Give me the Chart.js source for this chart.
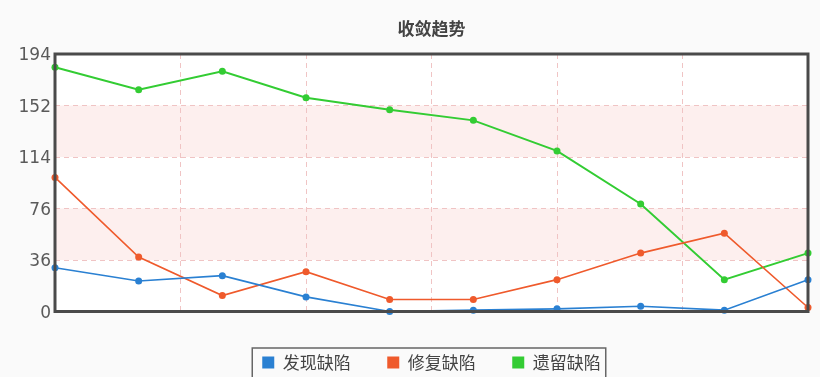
<!DOCTYPE html>
<html>
<head>
<meta charset="utf-8">
<script src="https://cdn.jsdelivr.net/npm/chart.js@4/dist/chart.umd.min.js"></script>
<style>
  html, body { margin: 0; padding: 0; background: #fafafa; }
  #wrap { width: 820px; height: 377px; }
</style>
</head>
<body>
<div id="wrap"><canvas id="c" width="820" height="377"></canvas></div>
<script>
const chartTitle = '收敛趋势';
const categories = ['1', '2', '3', '4', '5', '6', '7', '8', '9', '10'];
const seriesNames = ['发现缺陷', '修复缺陷', '遗留缺陷'];
const found    = [33, 23, 27, 11, 0, 1, 2, 4, 1, 24];
const fixed    = [101, 41, 12, 30, 9, 9, 24, 44, 59, 3];
const remain   = [184, 167, 181, 161, 152, 144, 121, 81, 24, 44];
const yTickLabels = ['0', '36', '76', '114', '152', '194'];
const yMax = 194;
const colors = ['#2a80d2', '#ef5a2c', '#33cc33'];

const CJK = '"Noto Sans CJK SC", "DejaVu Sans", sans-serif';
const TICK_FONT = { family: '"DejaVu Sans", sans-serif', size: 17 };

// widest tick label, used to right-align mirrored labels just left of the plot
const mctx = document.createElement('canvas').getContext('2d');
mctx.font = TICK_FONT.size + 'px ' + TICK_FONT.family;
const widest = Math.max(...yTickLabels.map(t => mctx.measureText(t).width));

const framePlugin = {
  id: 'frame',
  beforeDraw(chart) {
    const {ctx, chartArea: a, scales} = chart;
    const y = scales.y;
    ctx.save();
    ctx.fillStyle = '#ffffff';
    ctx.fillRect(a.left, a.top, a.right - a.left, a.bottom - a.top);
    const ticks = y.ticks.map(t => t.value);
    ctx.fillStyle = '#fdefee';
    [[1, 2], [3, 4]].forEach(([i, j]) => {
      const y1 = y.getPixelForValue(ticks[j]);
      const y2 = y.getPixelForValue(ticks[i]);
      ctx.fillRect(a.left, y1, a.right - a.left, y2 - y1);
    });
    ctx.restore();
  },
  afterDraw(chart) {
    const {ctx, chartArea: a} = chart;
    ctx.save();
    ctx.strokeStyle = '#4a4a4a';
    ctx.lineWidth = 3;
    ctx.strokeRect(a.left, a.top, a.right - a.left, a.bottom - a.top);
    const lg = chart.legend;
    if (lg && lg.legendHitBoxes && lg.legendHitBoxes.length) {
      const hb = lg.legendHitBoxes;
      const first = hb[0], last = hb[hb.length - 1];
      const l = first.left - 10, r = last.left + last.width + 5;
      const t = first.top - 6;
      ctx.lineWidth = 1.5;
      ctx.strokeStyle = '#666';
      ctx.beginPath();
      ctx.moveTo(l, chart.height + 2);
      ctx.lineTo(l, t);
      ctx.lineTo(r, t);
      ctx.lineTo(r, chart.height + 2);
      ctx.stroke();
    }
    ctx.restore();
  }
};

const mk = (label, data, color, w) => ({
  label, data,
  borderColor: color,
  backgroundColor: color,
  borderWidth: w,
  pointRadius: 3.5,
  pointBorderWidth: 0,
  pointBackgroundColor: color,
  tension: 0,
  clip: 6
});

new Chart(document.getElementById('c'), {
  type: 'line',
  data: {
    labels: categories,
    datasets: [
      mk(seriesNames[0], found, colors[0], 1.6),
      mk(seriesNames[1], fixed, colors[1], 1.6),
      mk(seriesNames[2], remain, colors[2], 2)
    ]
  },
  plugins: [framePlugin],
  options: {
    responsive: false,
    animation: false,
    layout: { padding: { left: 55, right: 12, top: 0, bottom: -4 } },
    plugins: {
      title: {
        display: true,
        text: chartTitle,
        color: '#444',
        font: { family: CJK, size: 17, weight: 'bold', lineHeight: 1.2 },
        padding: { top: 18, bottom: 15.6 }
      },
      legend: {
        position: 'bottom',
        labels: {
          boxWidth: 12,
          boxHeight: 12,
          padding: 36.5,
          color: '#444',
          font: { family: CJK, size: 17 },
          generateLabels(chart) {
            return chart.data.datasets.map((d, i) => ({
              text: d.label,
              fillStyle: d.borderColor,
              strokeStyle: d.borderColor,
              lineWidth: 0,
              hidden: false,
              datasetIndex: i,
              fontColor: '#444'
            }));
          }
        }
      },
      tooltip: { enabled: false }
    },
    scales: {
      x: {
        type: 'category',
        display: false,
        offset: false
      },
      x2: {
        type: 'linear',
        position: 'bottom',
        min: 0, max: 6,
        ticks: { display: false, stepSize: 1 },
        border: { display: false, dash: [5, 4] },
        grid: {
          color: (c) => (c.tick && (c.tick.value === 0 || c.tick.value === 6)) ? 'rgba(0,0,0,0)' : '#f0c4c4',
          lineWidth: 1,
          drawTicks: false
        },
        afterFit(s) { s.height = 6; }
      },
      y: {
        min: 0, max: yMax,
        afterBuildTicks(s) {
          s.ticks = yTickLabels.map((_, i) => ({ value: yMax * i / (yTickLabels.length - 1) }));
        },
        ticks: {
          mirror: true,
          crossAlign: 'far',
          padding: -(4 + widest),
          labelOffset: 2,
          color: '#5a5a5a',
          font: TICK_FONT,
          callback: (v, i) => yTickLabels[i]
        },
        border: { display: false, dash: [5, 4] },
        grid: {
          color: (c) => (c.index === 0 || c.index === yTickLabels.length - 1) ? 'rgba(0,0,0,0)' : '#f0c4c4',
          lineWidth: 1,
          drawTicks: false
        },
        afterFit(s) { s.width = 0; }
      }
    }
  }
});
</script>
</body>
</html>
